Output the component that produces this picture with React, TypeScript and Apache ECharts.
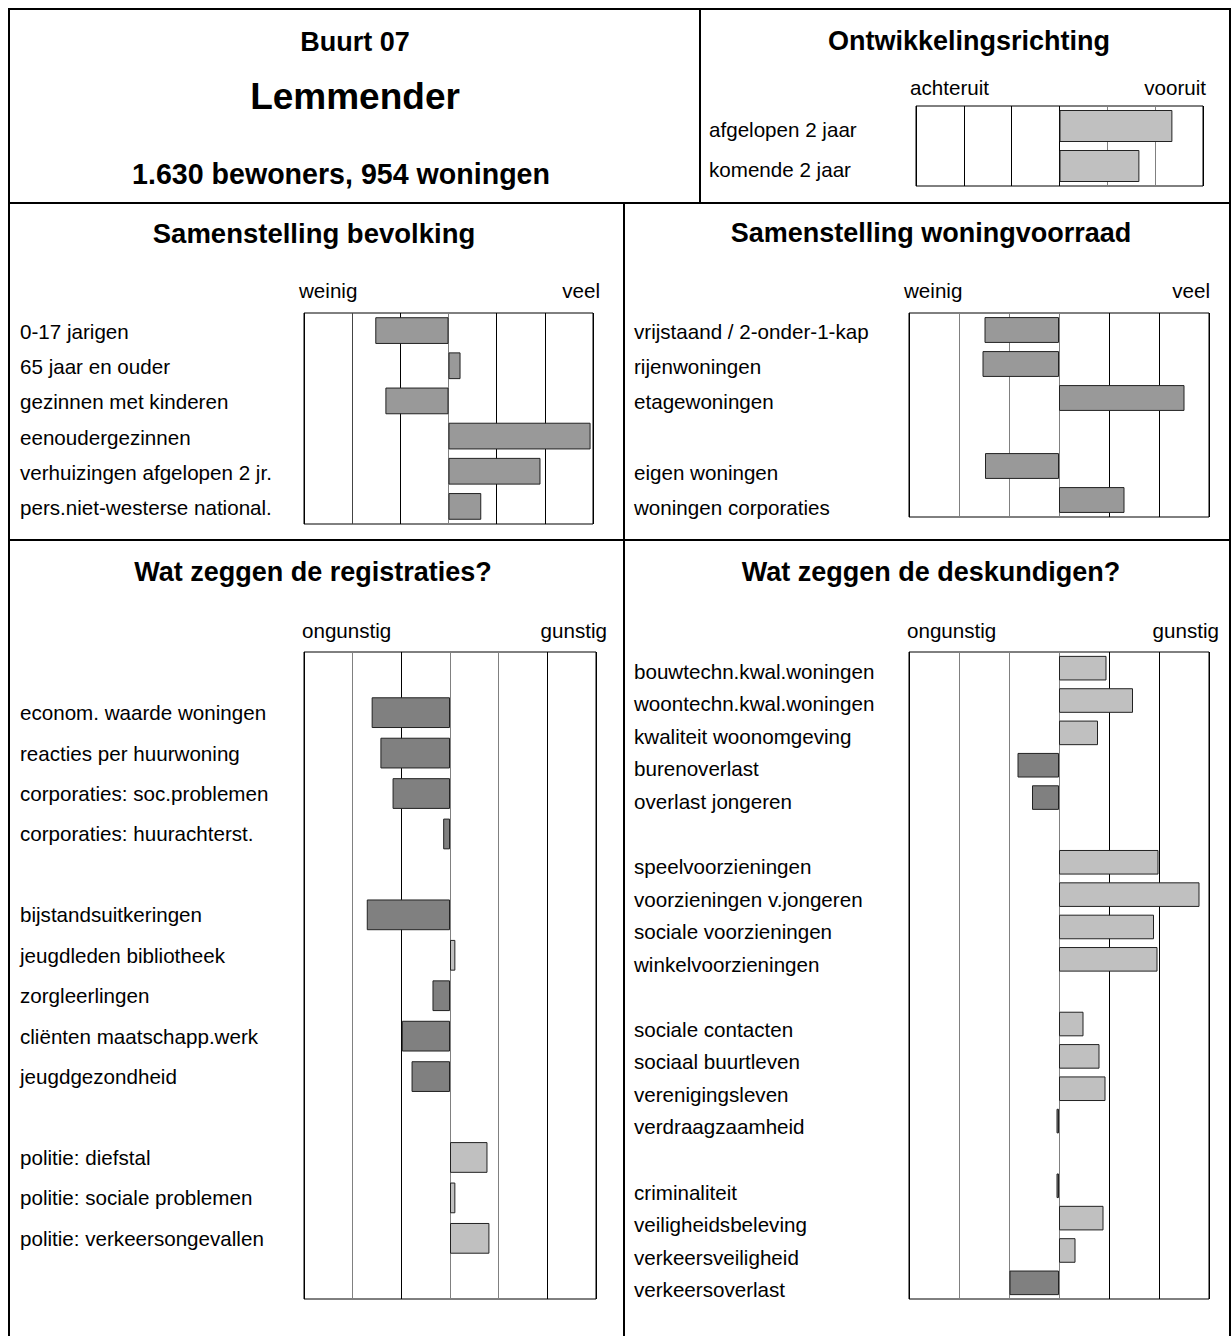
import React, { useEffect, useRef } from "react";
import * as echarts from "echarts";

// ---- data ----
const ontwCategories = ["afgelopen 2 jaar", "komende 2 jaar"];
const ontwValues = [2.36, 1.67];

const bevCategories = [
  "0-17 jarigen",
  "65 jaar en ouder",
  "gezinnen met kinderen",
  "eenoudergezinnen",
  "verhuizingen afgelopen 2 jr.",
  "pers.niet-westerse national.",
];
const bevValues = [-1.52, 0.25, -1.31, 2.95, 1.91, 0.68];

const wonCategories = [
  "vrijstaand / 2-onder-1-kap",
  "rijenwoningen",
  "etagewoningen",
  "",
  "eigen woningen",
  "woningen corporaties",
];
const wonValues = [-1.49, -1.53, 2.51, null, -1.48, 1.31];

const regCategories = [
  "",
  "econom. waarde woningen",
  "reacties per huurwoning",
  "corporaties: soc.problemen",
  "corporaties: huurachterst.",
  "",
  "bijstandsuitkeringen",
  "jeugdleden bibliotheek",
  "zorgleerlingen",
  "cliënten maatschapp.werk",
  "jeugdgezondheid",
  "",
  "politie: diefstal",
  "politie: sociale problemen",
  "politie: verkeersongevallen",
  "",
];
const regValues = [
  null, -1.61, -1.43, -1.18, -0.14, null, -1.71, 0.11, -0.36, -0.99, -0.79,
  null, 0.77, 0.11, 0.81, null,
];

const deskCategories = [
  "bouwtechn.kwal.woningen",
  "woontechn.kwal.woningen",
  "kwaliteit woonomgeving",
  "burenoverlast",
  "overlast jongeren",
  "",
  "speelvoorzieningen",
  "voorzieningen v.jongeren",
  "sociale voorzieningen",
  "winkelvoorzieningen",
  "",
  "sociale contacten",
  "sociaal buurtleven",
  "verenigingsleven",
  "verdraagzaamheid",
  "",
  "criminaliteit",
  "veiligheidsbeleving",
  "verkeersveiligheid",
  "verkeersoverlast",
];
const deskValues = [
  0.95, 1.48, 0.78, -0.83, -0.54, null, 1.99, 2.81, 1.9, 1.97, null, 0.49,
  0.81, 0.93, -0.05, null, -0.05, 0.89, 0.33, -0.99,
];

const FONT = "'Liberation Sans', Arial, Helvetica, sans-serif";
const DARK = "#808080";
const LIGHT = "#c0c0c0";
const MID = "#999999";
const LABEL_SIZE = 20.6;

type PanelDef = {
  cats: string[];
  vals: (number | null)[];
  left: number;
  top: number;
  width: number;
  height: number;
  labelX: number;
  labelTop?: number;
  labelHeight?: number;
  labelShift?: number;
  gap: string;
  split: string[];
  color: (v: number) => string;
};

const panels: PanelDef[] = [
  {
    cats: ontwCategories, vals: ontwValues, left: 916, top: 106, width: 287, height: 80,
    labelX: 709, labelTop: 109, labelHeight: 80, gap: "20%",
    split: ["#000", "#000", "#000", "#000", "#808080", "#808080", "#000"],
    color: () => LIGHT,
  },
  {
    cats: bevCategories, vals: bevValues, left: 304, top: 313, width: 289, height: 211,
    labelX: 20, labelTop: 314, labelHeight: 211, gap: "24%",
    split: ["#000", "#444", "#000", "#808080", "#000", "#000", "#000"],
    color: () => MID,
  },
  {
    cats: wonCategories, vals: wonValues, left: 909, top: 313, width: 300, height: 204,
    labelX: 634, labelTop: 314, labelHeight: 211, gap: "24%",
    split: ["#000", "#808080", "#808080", "#808080", "#000", "#000", "#000"],
    color: () => MID,
  },
  {
    cats: regCategories, vals: regValues, left: 304, top: 652, width: 292, height: 647,
    labelX: 20, labelTop: 652, labelHeight: 647, gap: "24%",
    split: ["#000", "#808080", "#000", "#808080", "#808080", "#000", "#000"],
    color: (v) => (v < 0 ? DARK : LIGHT),
  },
  {
    cats: deskCategories, vals: deskValues, left: 909, top: 652, width: 300, height: 647,
    labelX: 634, labelTop: 655, labelHeight: 651, gap: "24%",
    split: ["#000", "#808080", "#808080", "#808080", "#000", "#000", "#000"],
    color: (v) => (v < 0 ? DARK : LIGHT),
  },
];

function txt(text: string, x: number, y: number, size: number, bold: boolean, align: string) {
  return {
    type: "text",
    x,
    y,
    silent: true,
    style: {
      text,
      fill: "#000",
      font: `${bold ? "bold " : ""}${size}px ${FONT}`,
      textAlign: align,
      textVerticalAlign: "middle",
    },
  };
}

function ln(x1: number, y1: number, x2: number, y2: number) {
  return {
    type: "line",
    silent: true,
    shape: { x1, y1, x2, y2 },
    style: { stroke: "#000", lineWidth: 2 },
  };
}

export default function App() {
  const ref = useRef<HTMLDivElement>(null);

  useEffect(() => {
    if (!ref.current) return;
    const chart = echarts.init(ref.current, undefined, { renderer: "svg" });

    const grid: any[] = [];
    const xAxis: any[] = [];
    const yAxis: any[] = [];
    const series: any[] = [];

    panels.forEach((p) => {
      // bar grid
      const gi = grid.length;
      grid.push({
        left: p.left,
        top: p.top,
        width: p.width,
        height: p.height,
        show: true,
        borderColor: "#000",
        borderWidth: 1,
        backgroundColor: "transparent",
      });
      xAxis.push({
        type: "value",
        gridIndex: gi,
        min: -3,
        max: 3,
        interval: 1,
        axisLabel: { show: false },
        axisLine: { show: false },
        axisTick: { show: false },
        splitLine: { show: true, lineStyle: { color: p.split, width: 1 } },
      });
      yAxis.push({
        type: "category",
        gridIndex: gi,
        data: p.cats,
        inverse: true,
        axisLine: { show: false },
        axisTick: { show: false },
        splitLine: { show: false },
        axisLabel: { show: false },
      });
      series.push({
        type: "bar",
        xAxisIndex: gi,
        yAxisIndex: gi,
        barCategoryGap: p.gap,
        silent: true,
        data: p.vals.map((v) =>
          v === null
            ? null
            : {
                value: v,
                itemStyle: { color: p.color(v), borderColor: "#222", borderWidth: 1 },
              }
        ),
      });

      // label grid (row labels are laid out on their own band, as in the source)
      const li = grid.length;
      grid.push({
        left: p.left,
        top: p.labelTop,
        width: p.width,
        height: p.labelHeight,
        show: false,
      });
      xAxis.push({
        type: "value",
        gridIndex: li,
        min: -3,
        max: 3,
        interval: 1,
        show: false,
      });
      yAxis.push({
        type: "category",
        gridIndex: li,
        data: p.cats,
        inverse: true,
        axisLine: { show: false },
        axisTick: { show: false },
        splitLine: { show: false },
        axisLabel: {
          show: true,
          interval: 0,
          align: "left",
          margin: p.left - p.labelX,
          color: "#000",
          fontSize: LABEL_SIZE,
          fontFamily: FONT,
        },
      });
    });

    const graphic = [
      {
        type: "rect",
        silent: true,
        shape: { x: 9, y: 9, width: 1221, height: 1345 },
        style: { fill: "none", stroke: "#000", lineWidth: 2 },
      },
      ln(700, 9, 700, 203),
      ln(9, 203, 1230, 203),
      ln(624, 203, 624, 1345),
      ln(9, 540, 1230, 540),
      txt("Buurt 07", 355, 42, 27, true, "center"),
      txt("Lemmender", 355, 96, 37, true, "center"),
      txt("1.630 bewoners, 954 woningen", 341, 174, 28.6, true, "center"),
      txt("Ontwikkelingsrichting", 969, 41, 27, true, "center"),
      txt("achteruit", 910, 87, 20.6, false, "left"),
      txt("vooruit", 1206, 87, 20.6, false, "right"),
      txt("Samenstelling bevolking", 314, 233, 27.5, true, "center"),
      txt("weinig", 299, 290, 20.6, false, "left"),
      txt("veel", 600, 290, 20.6, false, "right"),
      txt("Samenstelling woningvoorraad", 931, 233, 27, true, "center"),
      txt("weinig", 904, 290, 20.6, false, "left"),
      txt("veel", 1210, 290, 20.6, false, "right"),
      txt("Wat zeggen de registraties?", 313, 572, 27, true, "center"),
      txt("ongunstig", 302, 630, 20.6, false, "left"),
      txt("gunstig", 607, 630, 20.6, false, "right"),
      txt("Wat zeggen de deskundigen?", 931, 572, 27, true, "center"),
      txt("ongunstig", 907, 630, 20.6, false, "left"),
      txt("gunstig", 1219, 630, 20.6, false, "right"),
    ];

    chart.setOption({
      animation: false,
      backgroundColor: "#fff",
      textStyle: { fontFamily: FONT },
      grid,
      xAxis,
      yAxis,
      series,
      graphic,
    } as any);

    return () => chart.dispose();
  }, []);

  return (
    <div
      ref={ref}
      style={{ position: "absolute", left: 0, top: 0, width: 1231, height: 1336 }}
    />
  );
}
